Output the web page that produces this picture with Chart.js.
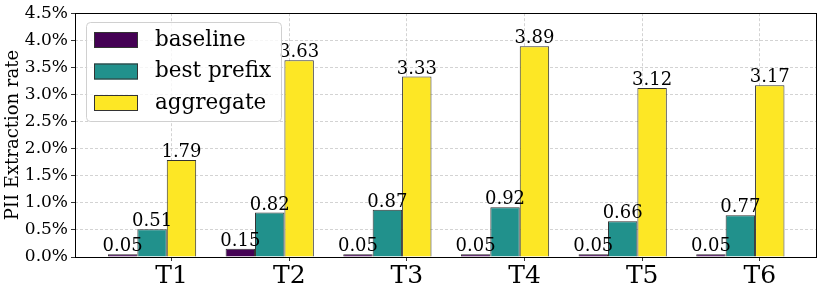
<!DOCTYPE html>
<html>
<head>
<meta charset="utf-8">
<script src="https://cdn.jsdelivr.net/npm/chart.js@4.4.0/dist/chart.umd.min.js"></script>
<style>
  html, body { margin: 0; padding: 0; background: #fff; }
  #wrap { width: 822px; height: 293px; }
</style>
</head>
<body>
<div id="wrap"><canvas id="piiChart"></canvas></div>
<script>
// data
const categories = ['T1', 'T2', 'T3', 'T4', 'T5', 'T6'];
const seriesNames = ['baseline', 'best prefix', 'aggregate'];
const baseline = [0.05, 0.15, 0.05, 0.05, 0.05, 0.05];
const bestPrefix = [0.51, 0.82, 0.87, 0.92, 0.66, 0.77];
const aggregate = [1.79, 3.63, 3.33, 3.89, 3.12, 3.17];
const yTickValues = [0, 0.5, 1, 1.5, 2, 2.5, 3, 3.5, 4, 4.5];

const seriesColors = ['#440154', '#21918c', '#fde725'];
const FONT = "'DejaVu Serif', 'Liberation Serif', serif";
const TICK_SHIFT = 0.166; // x ticks sit right of the group centre in the original

function toPoints(values) {
    return values.map((v, i) => ({ x: i, y: v }));
}

// value above every bar
const valueLabels = {
    id: 'valueLabels',
    afterDatasetsDraw(chart) {
        const ctx = chart.ctx;
        ctx.save();
        ctx.font = '18px ' + FONT;
        ctx.fillStyle = '#000';
        ctx.textAlign = 'center';
        ctx.textBaseline = 'alphabetic';
        chart.data.datasets.forEach((ds, di) => {
            chart.getDatasetMeta(di).data.forEach((bar, i) => {
                ctx.fillText(ds.data[i].y.toFixed(2), bar.x, bar.y - 3);
            });
        });
        ctx.restore();
    }
};

// full box round the plot, like the matplotlib spines
const frame = {
    id: 'frame',
    afterDatasetsDraw(chart) {
        const { left, top, right, bottom } = chart.chartArea;
        const ctx = chart.ctx;
        ctx.save();
        ctx.strokeStyle = '#000';
        ctx.lineWidth = 1;
        ctx.strokeRect(Math.round(left) + 0.5, Math.round(top) + 0.5,
            Math.round(right - left), Math.round(bottom - top));
        ctx.restore();
    }
};

// legend box inside the plot, upper left
const innerLegend = {
    id: 'innerLegend',
    afterDraw(chart) {
        const ctx = chart.ctx;
        const x0 = 86, y0 = 22, w = 195, h = 99;
        ctx.save();
        ctx.beginPath();
        ctx.roundRect(x0 + 0.5, y0 + 0.5, w, h, 4);
        ctx.fillStyle = 'rgba(255,255,255,0.8)';
        ctx.fill();
        ctx.strokeStyle = '#d0d0d0';
        ctx.lineWidth = 1;
        ctx.stroke();
        ctx.font = '21.5px ' + FONT;
        ctx.textBaseline = 'middle';
        ctx.textAlign = 'left';
        chart.data.datasets.forEach((ds, i) => {
            const cy = 40 + i * 31.5;
            ctx.fillStyle = ds.backgroundColor;
            ctx.fillRect(94, cy - 8, 44, 16);
            ctx.strokeStyle = '#333';
            ctx.strokeRect(94.5, cy - 7.5, 43, 15);
            ctx.fillStyle = '#000';
            ctx.fillText(ds.label, 155, cy);
        });
        ctx.restore();
    }
};

const seriesValues = [baseline, bestPrefix, aggregate];

new Chart(document.getElementById('piiChart'), {
    type: 'bar',
    data: {
        datasets: seriesNames.map((name, i) => ({
            label: name,
            data: toPoints(seriesValues[i]),
            backgroundColor: seriesColors[i],
            borderColor: '#333',
            borderWidth: 1,
            categoryPercentage: 0.75,
            barPercentage: 1.0
        }))
    },
    options: {
        responsive: true,
        maintainAspectRatio: false,
        animation: false,
        devicePixelRatio: 1,
        layout: { padding: { top: 12, right: 6, left: 0, bottom: 0 } },
        plugins: {
            legend: { display: false },
            tooltip: { enabled: false }
        },
        scales: {
            x: {
                type: 'linear',
                min: -0.655,
                max: 5.643,
                offset: false,
                bounds: 'data',
                afterBuildTicks: (scale) => {
                    scale.ticks = categories.map((c, i) => ({ value: i + TICK_SHIFT }));
                },
                afterFit: (scale) => { scale.height = 36; },
                ticks: {
                    autoSkip: false,
                    maxRotation: 0,
                    padding: 0,
                    color: '#000',
                    font: { family: FONT, size: 25 },
                    callback: (v, i) => categories[i]
                },
                grid: {
                    offset: false,
                    color: 'rgba(176,176,176,0.7)',
                    lineWidth: 0.8,
                    tickColor: '#000',
                    tickLength: 4
                },
                border: { display: false, dash: [3, 2] }
            },
            y: {
                min: 0,
                max: 4.5,
                afterBuildTicks: (scale) => {
                    scale.ticks = yTickValues.map(v => ({ value: v }));
                },
                afterFit: (scale) => { scale.width = 75; },
                ticks: {
                    padding: 3,
                    color: '#000',
                    font: { family: FONT, size: 17 },
                    callback: (v) => v.toFixed(1) + '%'
                },
                grid: {
                    color: 'rgba(176,176,176,0.7)',
                    lineWidth: 0.8,
                    tickColor: '#000',
                    tickLength: 4
                },
                border: { display: false, dash: [3, 2] },
                title: {
                    display: true,
                    text: 'PII Extraction rate',
                    color: '#000',
                    font: { family: FONT, size: 18 },
                    padding: { top: 3, bottom: 0 }
                }
            }
        }
    },
    plugins: [valueLabels, frame, innerLegend]
});
</script>
</body>
</html>
